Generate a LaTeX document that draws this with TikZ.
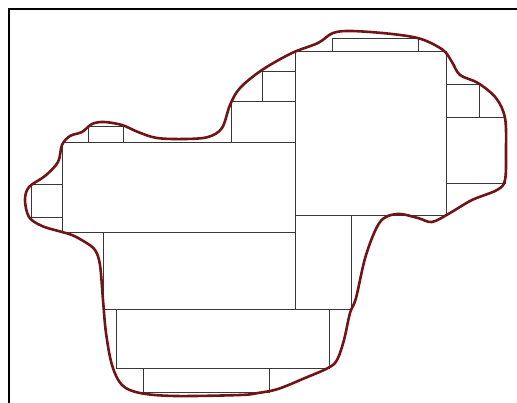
\documentclass[tikz,border=0pt]{standalone}
\definecolor{blobred}{RGB}{112,20,22}
\definecolor{boxgray}{RGB}{55,55,55}
\begin{document}
\begin{tikzpicture}[x=1pt,y=-1pt,
  box/.style={draw=boxgray,line width=0.9pt},
  frame/.style={draw=black,line width=2pt},
  blob/.style={draw=blobred,line width=2.6pt,line join=round}]
\useasboundingbox (0,0) rectangle (517,403);
% frame
\draw[frame] (9,403) -- (9,9) -- (517,9);
% rectangles
\draw[box] (62,142) rectangle (295,232);
\draw[box] (88,126) rectangle (123,142);
\draw[box] (31,184) rectangle (62,217);
\draw[box] (231,101) rectangle (295,142);
\draw[box] (262,71) rectangle (295,101);
\draw[box] (295,51) rectangle (446,215);
\draw[box] (332,38) rectangle (418,51);
\draw[box] (446,84) rectangle (479,117);
\draw[box] (446,117) rectangle (505,183);
\draw[box] (295,215) rectangle (351,309);
\draw[box] (103,232) rectangle (295,309);
\draw[box] (103,309) -- (351,309);
\draw[box] (116,309) rectangle (329,368);
\draw[box] (143,368) rectangle (269,392);
% blob outline
\draw[blob] plot[smooth cycle, tension=0.55] coordinates {
(25,200) (29,187) (45,176) (58,162) (62,145) (70,136) (82,132) (92,124)
(104,122) (122,125) (138,132) (157,138) (185,139) (208,137) (222,128)
(230,105) (240,88) (262,70) (292,53) (318,43) (333,33) (352,31) (392,34)
(421,39) (443,50) (452,62) (460,75) (478,83) (496,98) (505,118) (506,150)
(505,180) (497,190) (472,200) (450,213) (432,222) (418,218) (397,214)
(380,222) (366,255) (356,298) (350,313) (344,340) (337,360) (328,368)
(305,378) (278,389) (258,393) (240,395) (175,396) (140,393) (122,385)
(112,365) (106,333) (103,300) (100,265) (95,250) (85,242) (72,235)
(62,232) (42,226) (29,217)};
\end{tikzpicture}
\end{document}
